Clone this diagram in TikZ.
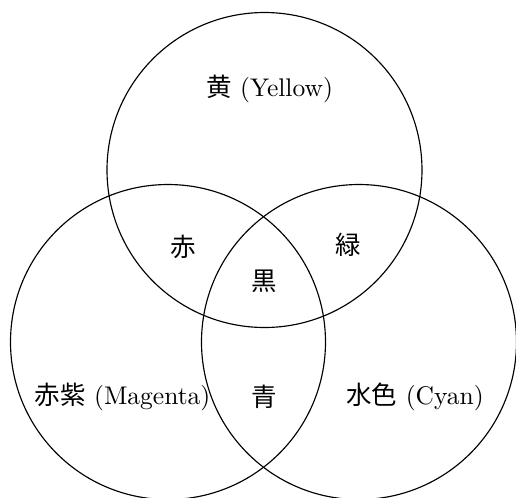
\documentclass[tikz,border=0pt]{standalone}
\usepackage{fontspec}
\newfontfamily\cjk{Noto Sans CJK JP}
\begin{document}
\begin{tikzpicture}[x=0.392pt,y=-0.392pt,
  venn/.style={draw=black,line width=0.45pt},
  lbl/.style={inner sep=0pt,font=\fontsize{10}{12}\selectfont}]
\useasboundingbox (0,0) rectangle (516,498);
\coordinate (cy) at (264.5,170);
\coordinate (cm) at (168,342);
\coordinate (cc) at (359,342);
\draw[venn] (cy) circle[radius=157.5];
\draw[venn] (cm) circle[radius=157.5];
\draw[venn] (cc) circle[radius=157.5];
\node[lbl] (ty) at (269.5,89) {{\cjk 黄} (Yellow)};
\node[lbl] (tr) at (183,247) {\cjk 赤};
\node[lbl] (tg) at (348,245) {\cjk 緑};
\node[lbl] (tk) at (264,281) {\cjk 黒};
\node[lbl] (tm) at (122.5,397) {{\cjk 赤紫} (Magenta)};
\node[lbl] (tb) at (264,397) {\cjk 青};
\node[lbl] (tc) at (415,397) {{\cjk 水色} (Cyan)};
\end{tikzpicture}
\end{document}
